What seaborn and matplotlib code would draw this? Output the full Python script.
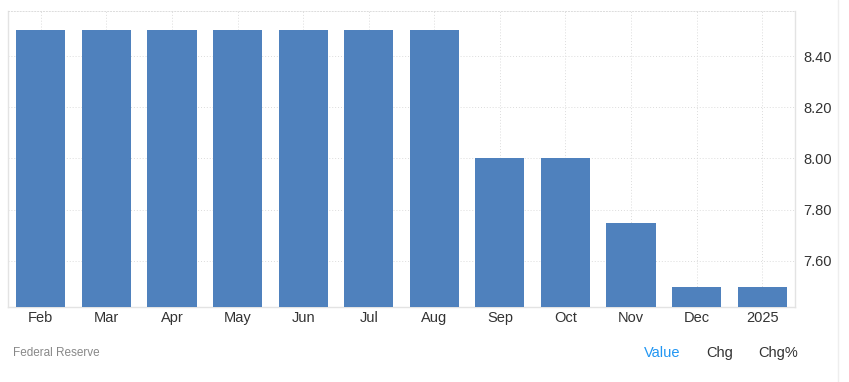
import matplotlib
matplotlib.use("Agg")
import matplotlib.pyplot as plt
import seaborn as sns
import pandas as pd
from matplotlib.lines import Line2D

categories = ["Feb", "Mar", "Apr", "May", "Jun", "Jul", "Aug", "Sep", "Oct", "Nov", "Dec", "2025"]
values = [8.50, 8.50, 8.50, 8.50, 8.50, 8.50, 8.50, 8.00, 8.00, 7.75, 7.50, 7.50]
yticks = [7.60, 7.80, 8.00, 8.20, 8.40]
ytick_labels = ["7.60", "7.80", "8.00", "8.20", "8.40"]

df = pd.DataFrame({"month": categories, "value": values})

sns.set_theme(style="white")
plt.rcParams["font.family"] = ["Liberation Sans", "DejaVu Sans"]

W, H = 849, 382
fig = plt.figure(figsize=(W / 100, H / 100), dpi=100)
left, right, top, bottom = 8, 795, 11, 307
ax = fig.add_axes([left / W, 1 - bottom / H, (right - left) / W, (bottom - top) / H])

sns.barplot(data=df, x="month", y="value", order=categories, color="#4f81bd",
            saturation=1, width=0.75, ax=ax, zorder=3, linewidth=0, edgecolor="none")

ax.set_ylim(7.42, 8.576)
ax.set_xlim(-0.5, len(categories) - 0.5)
ax.set_yticks(yticks)
ax.set_yticklabels(ytick_labels)
ax.yaxis.tick_right()
ax.set_xlabel("")
ax.set_ylabel("")

ax.grid(True, axis="both", linestyle=(0, (1, 2)), color="#dcdcdc", linewidth=0.7, zorder=0)
ax.set_axisbelow(True)

for s in ["left", "bottom", "right"]:
    ax.spines[s].set_visible(True)
    ax.spines[s].set_color("#e3e3e3")
    ax.spines[s].set_linewidth(1.0)
ax.spines["top"].set_visible(True)
ax.spines["top"].set_color("#dcdcdc")
ax.spines["top"].set_linestyle((0, (1, 2)))
ax.spines["top"].set_linewidth(0.7)

ax.tick_params(axis="y", length=0, pad=6, labelsize=10.5, labelcolor="#333333")
ax.tick_params(axis="x", length=0, pad=3, labelsize=10.5, labelcolor="#333333")

fig.text(13 / W, 1 - 353 / H, "Federal Reserve", fontsize=8.5, color="#888888", va="center", ha="left")
fig.text(662 / W, 1 - 353 / H, "Value", fontsize=10.5, color="#2196f3", va="center", ha="center")
fig.text(720 / W, 1 - 353 / H, "Chg", fontsize=10.5, color="#333333", va="center", ha="center")
fig.text(778 / W, 1 - 353 / H, "Chg%", fontsize=10.5, color="#333333", va="center", ha="center")

fig.add_artist(Line2D([838 / W, 838 / W], [0, 1], transform=fig.transFigure, color="#eeeeee", linewidth=1))

fig.savefig("out.png", dpi=100, facecolor="white")
